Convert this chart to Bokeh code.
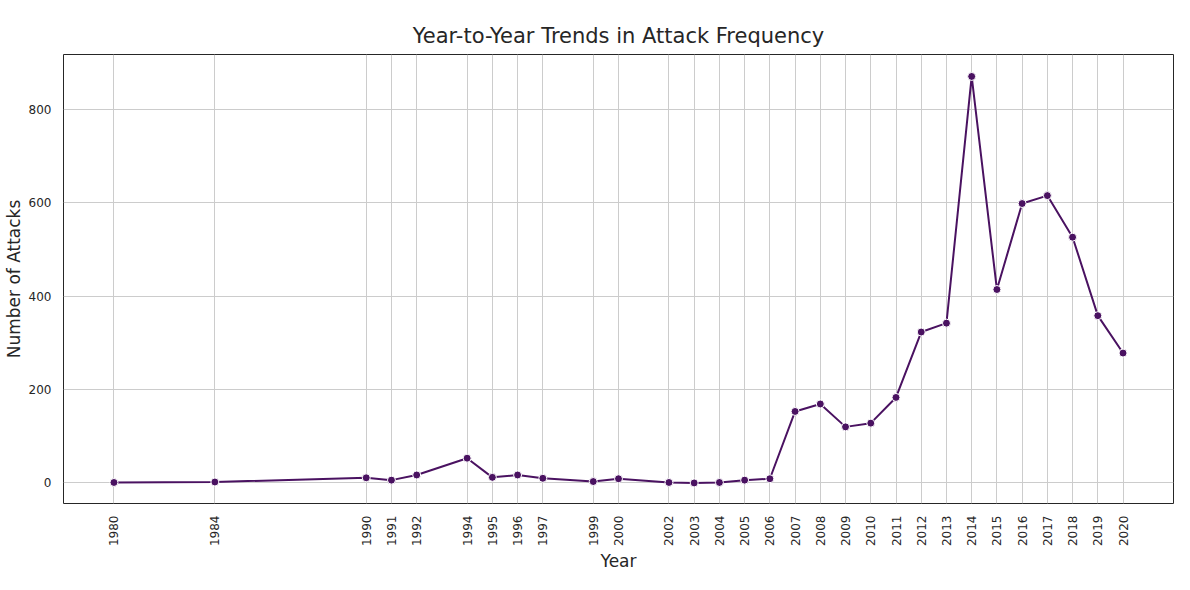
from bokeh.plotting import figure
from bokeh.embed import file_html
from bokeh.resources import INLINE
from bokeh.models import FixedTicker, Range1d
import math

years = [1980,1984,1990,1991,1992,1994,1995,1996,1997,1999,2000,2002,2003,2004,2005,2006,
         2007,2008,2009,2010,2011,2012,2013,2014,2015,2016,2017,2018,2019,2020]
attacks = [1,2,11,6,17,53,12,17,10,3,9,1,0,1,6,9,
           153,169,120,128,183,323,342,870,414,598,615,526,358,278]

c = "#4a1261"
p = figure(width=1174, height=574, output_backend="svg", toolbar_location=None,
           title="Year-to-Year Trends in Attack Frequency",
           x_range=Range1d(1978.0, 2022.0), y_range=Range1d(-44, 917),
           min_border_left=59, min_border_right=1, min_border_top=54, min_border_bottom=30)
p.title.align = "center"
p.title.text_font_size = "21px"
p.title.text_font_style = "normal"
p.title.text_font = "DejaVu Sans"
p.title.text_color = "#262626"
p.title.standoff = 14
p.line(years, attacks, color=c, line_width=2)
p.scatter(years, attacks, size=8, fill_color=c, line_color="white", line_width=1)
p.xaxis.ticker = FixedTicker(ticks=years)
p.yaxis.ticker = FixedTicker(ticks=[0,200,400,600,800])
p.xaxis.major_label_orientation = math.pi/2
p.xaxis.axis_label = "Year"
p.yaxis.axis_label = "Number of Attacks"
for ax in (p.xaxis[0], p.yaxis[0]):
    ax.axis_label_text_font_size = "17px"
    ax.axis_label_text_font_style = "normal"
    ax.axis_label_text_font = "DejaVu Sans"
    ax.axis_label_text_color = "#262626"
    ax.major_label_text_font_size = "12px"
    ax.major_label_text_font = "DejaVu Sans"
    ax.major_label_text_color = "#262626"
    ax.major_tick_line_color = None
    ax.minor_tick_line_color = None
    ax.axis_line_color = None
    ax.axis_label_standoff = 2
    ax.major_label_standoff = 6
p.grid.grid_line_color = "#cccccc"
p.outline_line_color = "#262626"
p.outline_line_width = 1
p.outline_line_alpha = 1
open("out.html", "w").write(file_html(p, INLINE))
